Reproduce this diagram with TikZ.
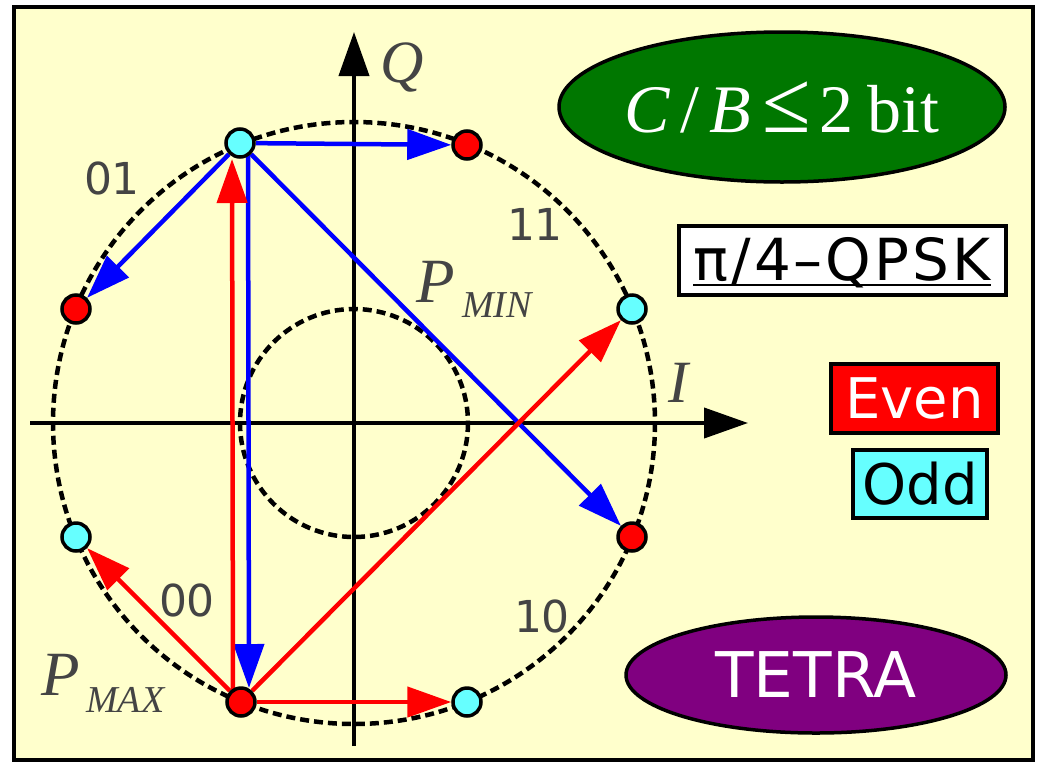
\documentclass[tikz,border=0pt]{standalone}
\usepackage{fontspec}
\setmainfont{Liberation Serif}
\newfontfamily\dvs{DejaVu Sans}
\usetikzlibrary{arrows.meta,calc,shapes.geometric}
\definecolor{bgy}{HTML}{FFFFCC}
\definecolor{cy}{HTML}{66FFFF}
\definecolor{dg}{HTML}{007700}
\definecolor{pu}{HTML}{800080}
\definecolor{lbl}{HTML}{444444}
\begin{document}
\begin{tikzpicture}[x=1pt,y=-1pt,
  dotr/.style={circle,draw=black,line width=3.5pt,fill=red,minimum size=28pt,inner sep=0pt},
  dotc/.style={dotr,fill=cy},
  tip/.style={-{Triangle[length=44pt,width=30pt]}},
  bl/.style={tip,line width=4.5pt,draw=blue,fill=blue},
  rd/.style={tip,line width=4.5pt,draw=red,fill=red},
  axis/.style={tip,line width=4pt,draw=black,fill=black},
  dcirc/.style={line width=4.5pt,dash pattern=on 9pt off 5pt},
  num/.style={text=lbl,font=\dvs\fontsize{44}{44}\selectfont,inner sep=0pt},
  big/.style={text=lbl,font=\fontsize{63}{63}\selectfont\itshape,inner sep=0pt,anchor=base west},
  sub/.style={text=lbl,font=\fontsize{38}{38}\selectfont\itshape,inner sep=0pt,anchor=base west},
  tag/.style={draw=black,line width=3.5pt,inner sep=0pt,font=\dvs\fontsize{56}{56}\selectfont}
]
% background
\fill[white] (0,0) rectangle (1038,764);
\draw[line width=3.5pt,fill=bgy] (14,7) rectangle (1033,760);
\useasboundingbox (0,0) rectangle (1038,764);

% circles
\coordinate (c) at (354,423);
\draw[dcirc] (c) circle[radius=301];
\draw[dcirc] (c) circle[radius=114];

% axes
\coordinate (xl) at (30,423);
\coordinate (xr) at (748,423);
\coordinate (yb) at (354,746);
\coordinate (yt) at (354,32);
\draw[axis] (xl) -- (xr);
\draw[axis] (yb) -- (yt);
\node[text=lbl,font=\fontsize{60}{60}\selectfont\itshape,inner sep=0pt,anchor=base west] (qlab) at (380,82) {Q};
\node[text=lbl,font=\fontsize{60}{60}\selectfont\itshape,inner sep=0pt,anchor=base west] (ilab) at (668,402) {I};

% quadrant labels
\node[num] (l01) at (112,178) {01};
\node[num] (l11) at (535,224) {11};
\node[num] (l00) at (187,600) {00};
\node[num] (l10) at (542,616) {10};

% P labels
\node[big] (pmin) at (416,302) {P};
\node[sub] (pminsub) at (462,317) {MIN};
\node[big] (pmax) at (41,695) {P};
\node[sub] (pmaxsub) at (86,712) {MAX};

% constellation points
\coordinate (pA) at (240,143);
\coordinate (pB) at (467,145);
\coordinate (pC) at (76,309);
\coordinate (pD) at (632,309);
\coordinate (pE) at (76,537);
\coordinate (pF) at (632,537);
\coordinate (pG) at (241,702);
\coordinate (pH) at (467,702);

\node[dotc,draw=none,fill=none] (A) at (pA) {};
\node[dotr,draw=none,fill=none] (B) at (pB) {};
\node[dotr,draw=none,fill=none] (C) at (pC) {};
\node[dotc,draw=none,fill=none] (D) at (pD) {};
\node[dotc,draw=none,fill=none] (E) at (pE) {};
\node[dotr,draw=none,fill=none] (F) at (pF) {};
\node[dotr,draw=none,fill=none] (G) at (pG) {};
\node[dotc,draw=none,fill=none] (H) at (pH) {};

% connectors
\draw[bl] (A) -- (B);
\draw[bl] (A) -- (C);
\draw[bl] (A) -- (F);
\draw[bl,shorten >=14pt] ($(pA)+(8,0)$) -- ($(pG)+(8,0)$);
\draw[rd,shorten >=16pt] ($(pG)+(-8,0)$) -- ($(pA)+(-8,0)$);
\draw[rd] (G) -- (E);
\draw[rd] (G) -- (D);
\draw[rd] (G) -- (H);

% dots on top
\node[dotc] (Ad) at (pA) {};
\node[dotr] (Bd) at (pB) {};
\node[dotr] (Cd) at (pC) {};
\node[dotc] (Dd) at (pD) {};
\node[dotc] (Ed) at (pE) {};
\node[dotr] (Fd) at (pF) {};
\node[dotr] (Gd) at (pG) {};
\node[dotc] (Hd) at (pH) {};

% legend items
\node[ellipse,draw=black,line width=3.5pt,fill=dg,minimum width=446pt,minimum height=150pt,inner sep=0pt,text=white,font=\fontsize{68}{68}\selectfont] (cb) at (782,107)
  {\itshape C\kern10pt\upshape/\kern10pt\itshape B\upshape\kern12pt\scalebox{1.3}{≤}\kern8pt2\kern14pt bit};
\node[ellipse,draw=black,line width=3.5pt,fill=pu,minimum width=380pt,minimum height=116pt,inner sep=0pt,text=white,font=\dvs\fontsize{63}{63}\selectfont] (tetra) at (816,675) {TETRA};

\node[draw=black,line width=3.5pt,fill=white,minimum width=327pt,minimum height=69pt,inner sep=0pt] (qbox) at (842.5,260.5) {};
\node[inner sep=0pt,font=\dvs\fontsize{58}{58}\selectfont,anchor=base] (qtxt) at (842,280) {π\kern3pt/\kern3pt4\kern3pt–\kern3pt Q\kern3pt P\kern3pt S\kern3pt K};
\draw[line width=2.5pt] ($(qtxt.base west)+(0,5)$) -- ($(qtxt.base east)+(0,5)$);

\node[tag,fill=red,text=white,minimum width=167pt,minimum height=69pt] (even) at (914.5,398.5) {Even};
\node[tag,fill=cy,text=black,minimum width=134pt,minimum height=68pt] (odd) at (920,484) {Odd};
\end{tikzpicture}
\end{document}
